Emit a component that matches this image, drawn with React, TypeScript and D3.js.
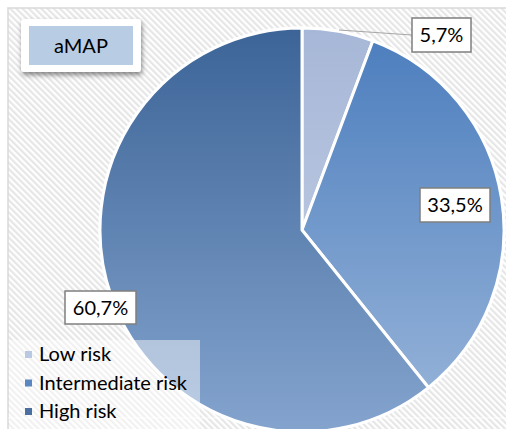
import React from "react";
import * as d3 from "d3";

const categories = ["Low risk", "Intermediate risk", "High risk"];
const values = [5.7, 33.5, 60.7];
const labels = ["5,7%", "33,5%", "60,7%"];
const title = "aMAP";

const W = 506, H = 429;
const cx = 302, cy = 230, R = 202;
const FONT = "Lato, 'Open Sans', sans-serif";

const gradTop = ["#a7b7d7", "#4b7dbd", "#3c6497"];
const gradBot = ["#c6d2e6", "#9ab6da", "#84a4ce"];
const legendColors = ["#b9c9e2", "#5a87c0", "#4a6fa0"];

// label box positions (layout)
const labelBoxes = [
  { x: 412, y: 18, w: 59, h: 34 },
  { x: 420, y: 188, w: 70, h: 34 },
  { x: 65, y: 291, w: 71, h: 33 },
];

export default function App() {
  const pie = d3.pie<number>().sort(null).value((d) => d)(values);
  const arc = d3.arc<d3.PieArcDatum<number>>().innerRadius(0).outerRadius(R);
  const legendY = d3.scalePoint<string>().domain(categories).range([354, 411]);

  return (
    <svg width={W} height={H} style={{ position: "absolute", left: 0, top: 0 }}>
      <defs>
        <pattern id="hatch" patternUnits="userSpaceOnUse" width="4.4" height="4.4" patternTransform="rotate(-45)">
          <rect width="4.4" height="4.4" fill="#ffffff" />
          <rect width="2.2" height="4.4" fill="#e6e6e6" />
        </pattern>
        {values.map((_, i) => (
          <linearGradient key={i} id={`g${i}`} gradientUnits="userSpaceOnUse" x1="0" y1={-R} x2="0" y2={R}>
            <stop offset="0" stopColor={gradTop[i]} />
            <stop offset="1" stopColor={gradBot[i]} />
          </linearGradient>
        ))}
        <filter id="shadow" x="-20%" y="-20%" width="140%" height="160%">
          <feDropShadow dx="1" dy="3" stdDeviation="2.5" floodColor="#000" floodOpacity="0.45" />
        </filter>
      </defs>
      <rect x={0} y={0} width={W} height={H} fill="#fff" />
      <rect x={8} y={8} width={W} height={H} fill="url(#hatch)" stroke="#d9d9d9" strokeWidth={1.5} />
      <line x1={8} x2={W} y1={418} y2={418} stroke="#ffffff" strokeWidth={1} opacity={0.8} />

      <g transform={`translate(${cx},${cy})`}>
        <circle r={R + 1.5} fill="#fff" />
        {pie.map((p, i) => (
          <path key={i} d={arc(p) || ""} fill={`url(#g${i})`} stroke="#fff" strokeWidth={3} strokeLinejoin="round" />
        ))}
      </g>

      {/* legend background */}
      <rect x={9} y={340} width={191} height={H - 340} fill="#ffffff" opacity={0.45} />
      {categories.map((c, i) => {
        const y = legendY(c)!;
        return (
          <g key={c}>
            <rect x={25} y={y - 3} width={7} height={7} fill={legendColors[i]} />
            <text x={39} y={y + 7} fontFamily={FONT} fontSize={20} fill="#000">{c}</text>
          </g>
        );
      })}

      {/* leader line for low risk */}
      <line x1={339} y1={30} x2={412} y2={35} stroke="#a6a6a6" strokeWidth={1} />

      {labels.map((l, i) => {
        const b = labelBoxes[i];
        return (
          <g key={l}>
            <rect x={b.x} y={b.y} width={b.w} height={b.h} fill="#fff" stroke="#7f7f7f" strokeWidth={1.5} />
            <text x={b.x + b.w / 2} y={b.y + b.h / 2 + 7} textAnchor="middle" fontFamily={FONT} fontSize={20} fill="#000">{l}</text>
          </g>
        );
      })}

      {/* title */}
      <rect x={21} y={19} width={120} height={53} rx={3} fill="#fff" filter="url(#shadow)" />
      <rect x={29} y={26} width={104} height={39} fill="#b8cce4" />
      <text x={81} y={53} textAnchor="middle" fontFamily={FONT} fontSize={20} fill="#000">{title}</text>
    </svg>
  );
}
